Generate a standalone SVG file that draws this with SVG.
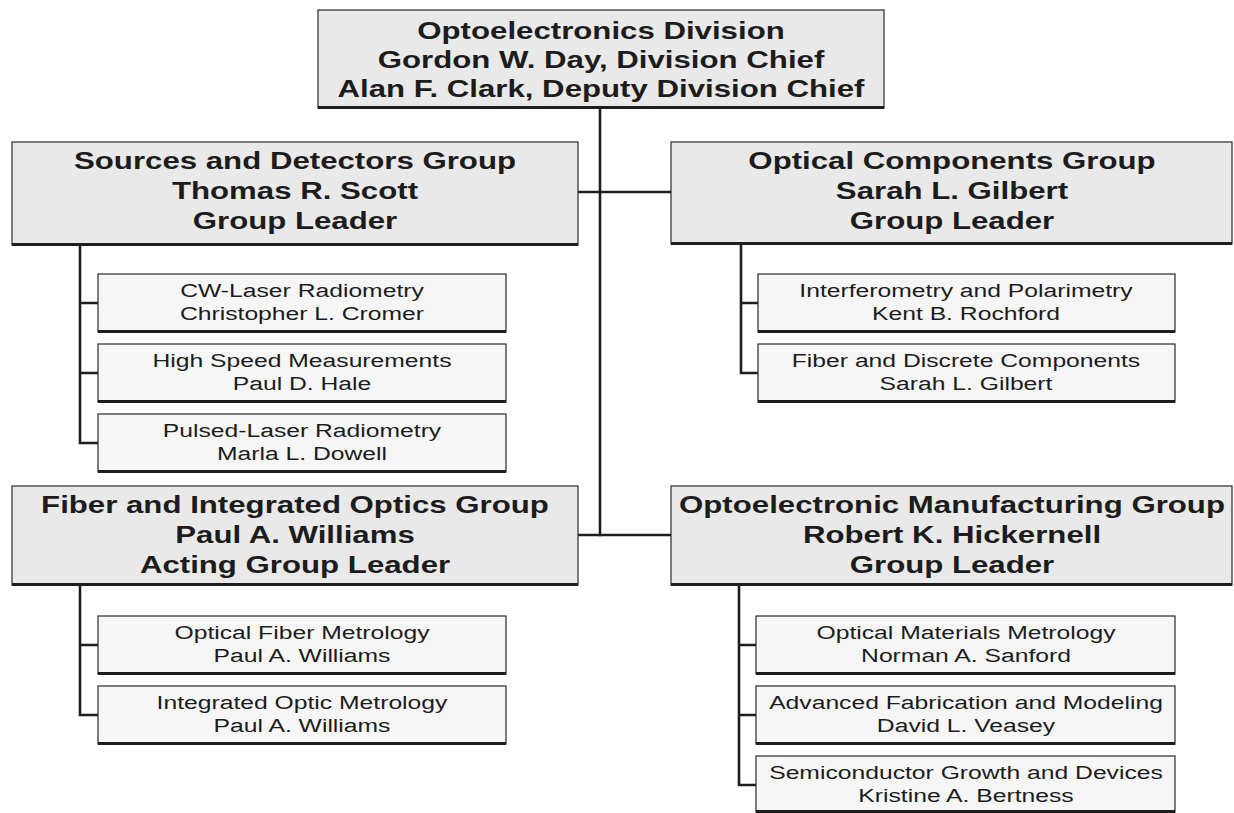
<svg xmlns="http://www.w3.org/2000/svg" width="1234" height="813" viewBox="0 0 1234 813">
  <style>
    .bg { fill: #ffffff; }
    .main { fill: #e9e9e9; stroke: #2a2a2a; stroke-width: 1.2; }
    .sub { fill: #f6f6f6; stroke: #2a2a2a; stroke-width: 1.2; }
    .shadow { stroke: #1e1e1e; stroke-width: 3; fill: none; }
    .link { stroke: #1e1e1e; stroke-width: 2.6; fill: none; stroke-linecap: square; }
    .h { font-family: "Liberation Sans", Arial, sans-serif; font-weight: bold; font-size: 24px; fill: #1c1c1c; text-anchor: middle; }
    .t { font-family: "Liberation Sans", Arial, sans-serif; font-size: 19px; fill: #1c1c1c; text-anchor: middle; }
  </style>
  <rect class="bg" x="0" y="0" width="1234" height="813"/>

  <!-- connectors -->
  <g id="connectors">
    <path class="link" d="M600,108 V535"/>
    <path class="link" d="M578,192 H671"/>
    <path class="link" d="M578,535 H671"/>
    <path class="link" d="M80,245 V443 M80,303 H98 M80,373 H98 M80,443 H98"/>
    <path class="link" d="M741,244 V373 M741,303 H758 M741,373 H758"/>
    <path class="link" d="M80,585 V715 M80,645 H98 M80,715 H98"/>
    <path class="link" d="M739,585 V785 M739,645 H756 M739,715 H756 M739,785 H756"/>
  </g>

  <!-- division office -->
  <g id="division">
    <rect class="main" x="318" y="10" width="566" height="98"/>
    <path class="shadow" d="M318,107.5 H884"/>
    <text class="h" transform="translate(601,39) scale(1.3,1)">Optoelectronics Division</text>
    <text class="h" transform="translate(601,68) scale(1.3,1)">Gordon W. Day, Division Chief</text>
    <text class="h" transform="translate(601,97) scale(1.3,1)">Alan F. Clark, Deputy Division Chief</text>
  </g>

  <!-- groups -->
  <g id="sources-detectors">
    <rect class="main" x="12" y="142" width="566" height="103"/>
    <path class="shadow" d="M12,244.5 H578"/>
    <text class="h" transform="translate(295,169) scale(1.3,1)">Sources and Detectors Group</text>
    <text class="h" transform="translate(295,199) scale(1.3,1)">Thomas R. Scott</text>
    <text class="h" transform="translate(295,229) scale(1.3,1)">Group Leader</text>
  </g>

  <g id="optical-components">
    <rect class="main" x="671" y="142" width="561" height="102"/>
    <path class="shadow" d="M671,243.5 H1232"/>
    <text class="h" transform="translate(952,169) scale(1.3,1)">Optical Components Group</text>
    <text class="h" transform="translate(952,199) scale(1.3,1)">Sarah L. Gilbert</text>
    <text class="h" transform="translate(952,229) scale(1.3,1)">Group Leader</text>
  </g>

  <g id="fiber-integrated-optics">
    <rect class="main" x="12" y="486" width="566" height="99"/>
    <path class="shadow" d="M12,584.5 H578"/>
    <text class="h" transform="translate(295,513) scale(1.3,1)">Fiber and Integrated Optics Group</text>
    <text class="h" transform="translate(295,543) scale(1.3,1)">Paul A. Williams</text>
    <text class="h" transform="translate(295,573) scale(1.3,1)">Acting Group Leader</text>
  </g>

  <g id="manufacturing">
    <rect class="main" x="671" y="486" width="561" height="99"/>
    <path class="shadow" d="M671,584.5 H1232"/>
    <text class="h" transform="translate(952,513) scale(1.3,1)">Optoelectronic Manufacturing Group</text>
    <text class="h" transform="translate(952,543) scale(1.3,1)">Robert K. Hickernell</text>
    <text class="h" transform="translate(952,573) scale(1.3,1)">Group Leader</text>
  </g>

  <!-- projects: sources and detectors -->
  <g id="cw-laser">
    <rect class="sub" x="98" y="274" width="408" height="58"/>
    <path class="shadow" d="M98,331.5 H506"/>
    <text class="t" transform="translate(302,297) scale(1.3,1)">CW-Laser Radiometry</text>
    <text class="t" transform="translate(302,320) scale(1.3,1)">Christopher L. Cromer</text>
  </g>
  <g id="high-speed">
    <rect class="sub" x="98" y="344" width="408" height="58"/>
    <path class="shadow" d="M98,401.5 H506"/>
    <text class="t" transform="translate(302,367) scale(1.3,1)">High Speed Measurements</text>
    <text class="t" transform="translate(302,390) scale(1.3,1)">Paul D. Hale</text>
  </g>
  <g id="pulsed-laser">
    <rect class="sub" x="98" y="414" width="408" height="58"/>
    <path class="shadow" d="M98,471.5 H506"/>
    <text class="t" transform="translate(302,437) scale(1.3,1)">Pulsed-Laser Radiometry</text>
    <text class="t" transform="translate(302,460) scale(1.3,1)">Marla L. Dowell</text>
  </g>

  <!-- projects: optical components -->
  <g id="interferometry">
    <rect class="sub" x="758" y="274" width="417" height="58"/>
    <path class="shadow" d="M758,331.5 H1175"/>
    <text class="t" transform="translate(966,297) scale(1.3,1)">Interferometry and Polarimetry</text>
    <text class="t" transform="translate(966,320) scale(1.3,1)">Kent B. Rochford</text>
  </g>
  <g id="discrete-components">
    <rect class="sub" x="758" y="344" width="417" height="58"/>
    <path class="shadow" d="M758,401.5 H1175"/>
    <text class="t" transform="translate(966,367) scale(1.3,1)">Fiber and Discrete Components</text>
    <text class="t" transform="translate(966,390) scale(1.3,1)">Sarah L. Gilbert</text>
  </g>

  <!-- projects: fiber and integrated optics -->
  <g id="fiber-metrology">
    <rect class="sub" x="98" y="616" width="408" height="58"/>
    <path class="shadow" d="M98,673.5 H506"/>
    <text class="t" transform="translate(302,639) scale(1.3,1)">Optical Fiber Metrology</text>
    <text class="t" transform="translate(302,662) scale(1.3,1)">Paul A. Williams</text>
  </g>
  <g id="integrated-optic">
    <rect class="sub" x="98" y="686" width="408" height="58"/>
    <path class="shadow" d="M98,743.5 H506"/>
    <text class="t" transform="translate(302,709) scale(1.3,1)">Integrated Optic Metrology</text>
    <text class="t" transform="translate(302,732) scale(1.3,1)">Paul A. Williams</text>
  </g>

  <!-- projects: manufacturing -->
  <g id="materials-metrology">
    <rect class="sub" x="756" y="616" width="419" height="58"/>
    <path class="shadow" d="M756,673.5 H1175"/>
    <text class="t" transform="translate(966,639) scale(1.3,1)">Optical Materials Metrology</text>
    <text class="t" transform="translate(966,662) scale(1.3,1)">Norman A. Sanford</text>
  </g>
  <g id="fabrication-modeling">
    <rect class="sub" x="756" y="686" width="419" height="58"/>
    <path class="shadow" d="M756,743.5 H1175"/>
    <text class="t" transform="translate(966,709) scale(1.3,1)">Advanced Fabrication and Modeling</text>
    <text class="t" transform="translate(966,732) scale(1.3,1)">David L. Veasey</text>
  </g>
  <g id="semiconductor">
    <rect class="sub" x="756" y="756" width="419" height="56"/>
    <path class="shadow" d="M756,811.5 H1175"/>
    <text class="t" transform="translate(966,779) scale(1.3,1)">Semiconductor Growth and Devices</text>
    <text class="t" transform="translate(966,802) scale(1.3,1)">Kristine A. Bertness</text>
  </g>
</svg>
